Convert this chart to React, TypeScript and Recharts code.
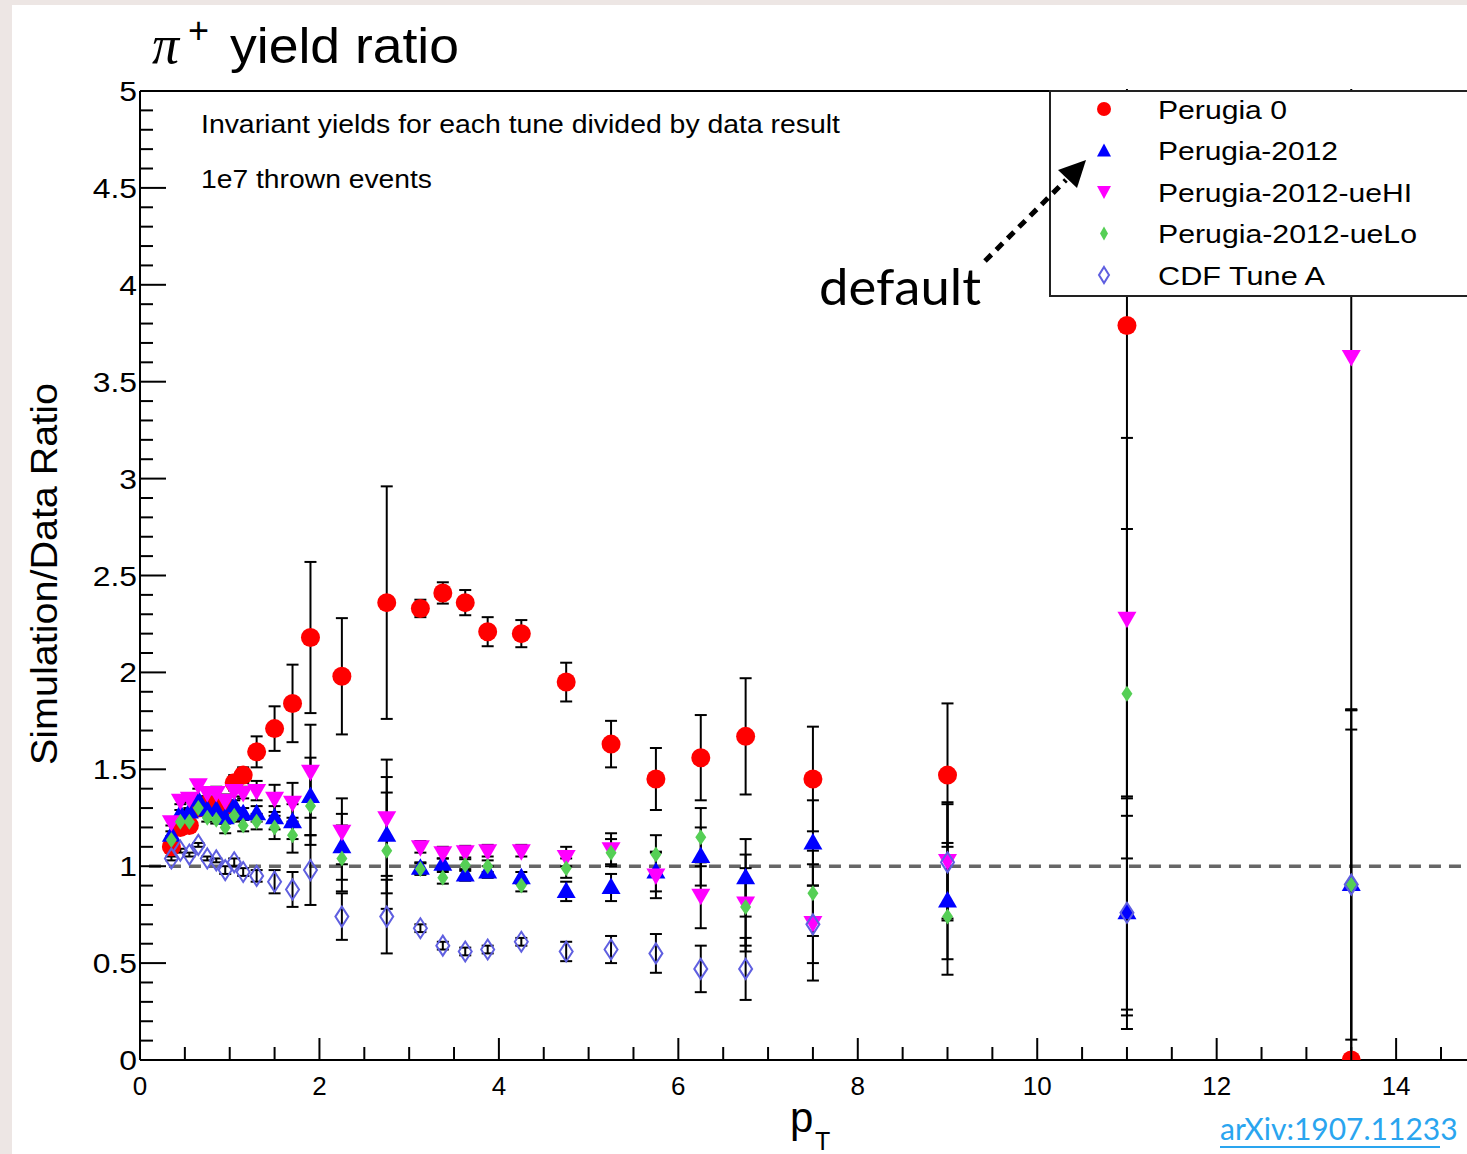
import React from 'react';
import { ComposedChart, Scatter, XAxis, YAxis, ErrorBar, ReferenceLine, Legend } from 'recharts';

// pT bin centres
const PT = [0.35, 0.45, 0.55, 0.65, 0.75, 0.85, 0.95, 1.05, 1.15, 1.3, 1.5, 1.7, 1.9, 2.25, 2.75, 3.125, 3.375, 3.625, 3.875, 4.25, 4.75, 5.25, 5.75, 6.25, 6.75, 7.5, 9, 11, 13.5];

// Perugia 0
const P0 = [1.10, 1.20, 1.21, 1.30, 1.32, 1.32, 1.31, 1.43, 1.47, 1.59, 1.71, 1.84, 2.18, 1.98, 2.36, 2.33, 2.41, 2.36, 2.21, 2.20, 1.95, 1.63, 1.45, 1.56, 1.67, 1.45, 1.47, 3.79, 0];
const P0_ERR = [0.02, 0.02, 0.02, 0.03, 0.03, 0.03, 0.03, 0.04, 0.04, 0.08, 0.115, 0.20, 0.39, 0.30, 0.60, 0.045, 0.055, 0.065, 0.075, 0.07, 0.10, 0.12, 0.16, 0.22, 0.30, 0.27, 0.37, 3.56, 0];

// Perugia-2012
const P12 = [1.16, 1.27, 1.28, 1.34, 1.29, 1.29, 1.25, 1.31, 1.27, 1.27, 1.25, 1.23, 1.36, 1.10, 1.16, 0.99, 1.01, 0.955, 0.97, 0.94, 0.87, 0.89, 0.97, 1.05, 0.94, 1.12, 0.82, 0.76, 0.905];
const P12_ERR = [0.02, 0.02, 0.02, 0.02, 0.02, 0.02, 0.03, 0.03, 0.03, 0.04, 0.06, 0.09, 0.20, 0.17, 0.30, 0.03, 0.03, 0.03, 0.03, 0.03, 0.05, 0.07, 0.10, 0.15, 0.20, 0.22, 0.30, 0.60, 0.90];

// Perugia-2012-ueHI
const PHI = [1.23, 1.34, 1.35, 1.42, 1.38, 1.38, 1.34, 1.39, 1.38, 1.39, 1.35, 1.33, 1.49, 1.18, 1.25, 1.10, 1.07, 1.075, 1.08, 1.08, 1.05, 1.09, 0.955, 0.85, 0.81, 0.71, 1.03, 2.28, 3.63];
const PHI_ERR = [0.02, 0.02, 0.02, 0.02, 0.02, 0.03, 0.03, 0.03, 0.03, 0.05, 0.07, 0.10, 0.24, 0.17, 0.30, 0.03, 0.03, 0.03, 0.03, 0.03, 0.05, 0.08, 0.12, 0.17, 0.25, 0.30, 0.30, 0.93, 1.82];

// Perugia-2012-ueLo
const PLO = [1.135, 1.23, 1.23, 1.30, 1.25, 1.24, 1.20, 1.26, 1.21, 1.23, 1.20, 1.16, 1.31, 1.04, 1.08, 0.985, 0.94, 1.006, 1.0, 0.90, 0.99, 1.07, 1.06, 1.15, 0.79, 0.86, 0.74, 1.89, 0.905];
const PLO_ERR = [0.02, 0.02, 0.02, 0.02, 0.02, 0.02, 0.03, 0.03, 0.03, 0.04, 0.06, 0.09, 0.20, 0.17, 0.30, 0.03, 0.03, 0.03, 0.03, 0.03, 0.05, 0.07, 0.10, 0.15, 0.20, 0.22, 0.30, 0.85, 0.90];

// CDF Tune A
const CDF = [1.04, 1.08, 1.06, 1.11, 1.04, 1.03, 0.98, 1.02, 0.97, 0.95, 0.92, 0.88, 0.98, 0.74, 0.74, 0.68, 0.59, 0.56, 0.57, 0.61, 0.56, 0.57, 0.55, 0.47, 0.47, 0.70, 1.02, 0.76, 0.905];
const CDF_ERR = [0.01, 0.01, 0.01, 0.01, 0.01, 0.01, 0.02, 0.02, 0.02, 0.03, 0.06, 0.09, 0.18, 0.12, 0.19, 0.02, 0.02, 0.02, 0.02, 0.02, 0.05, 0.07, 0.10, 0.12, 0.16, 0.20, 0.30, 0.50, 0.80];

const SERIES_NAMES = ['Perugia 0', 'Perugia-2012', 'Perugia-2012-ueHI', 'Perugia-2012-ueLo', 'CDF Tune A'];
const LEGEND_WIDTHS = [129, 180, 254, 259, 167];

const Y_TICKS = Array.from({ length: 51 }, (_, i) => i / 10);
const X_TICKS = Array.from({ length: 30 }, (_, i) => i / 2);
const X_MAX = 14.79;

const mk = (vals: number[], errs: number[]) => PT.map((x, i) => ({ x, y: vals[i], e: errs[i] }));
const dP0 = mk(P0, P0_ERR);
const dP12 = mk(P12, P12_ERR);
const dPHI = mk(PHI, PHI_ERR);
const dPLO = mk(PLO, PLO_ERR);
const dCDF = mk(CDF, CDF_ERR);

const RED = '#ff0000';
const BLUE = '#0000ff';
const MAGENTA = '#ff00ff';
const GREEN = '#55cf55';
const CDFC = '#5f5fe0';
const SANS = '"Liberation Sans", Arial, Helvetica, sans-serif';

const Circle = (p: any) => <circle cx={p.cx} cy={p.cy} r={9.5} fill={RED} />;
const TriUp = (p: any) => (
  <polygon points={`${p.cx},${p.cy - 10} ${p.cx - 9.5},${p.cy + 6.5} ${p.cx + 9.5},${p.cy + 6.5}`} fill={BLUE} />
);
const TriDown = (p: any) => (
  <polygon points={`${p.cx},${p.cy + 10} ${p.cx - 9.5},${p.cy - 6.5} ${p.cx + 9.5},${p.cy - 6.5}`} fill={MAGENTA} />
);
const DiamondFill = (p: any) => (
  <polygon points={`${p.cx},${p.cy - 8} ${p.cx + 5.5},${p.cy} ${p.cx},${p.cy + 8} ${p.cx - 5.5},${p.cy}`} fill={GREEN} />
);
const DiamondOpen = (p: any) => (
  <polygon points={`${p.cx},${p.cy - 10} ${p.cx + 6.5},${p.cy} ${p.cx},${p.cy + 10} ${p.cx - 6.5},${p.cy}`} fill="none" stroke={CDFC} strokeWidth={2} />
);

const YTick = (props: any) => {
  const { x, y, payload } = props;
  const v = payload.value;
  const major = Math.round(v * 10) % 5 === 0;
  return (
    <g>
      <line x1={x} y1={y} x2={x + (major ? 26 : 13)} y2={y} stroke="#000" strokeWidth={2} />
      {major && (
        <text transform={`translate(${x - 3},${y + 10}) scale(1.18,1)`} textAnchor="end" fontFamily={SANS} fontSize={27} fill="#000">
          {String(v)}
        </text>
      )}
    </g>
  );
};

const XTick = (props: any) => {
  const { x, y, payload } = props;
  const v = payload.value;
  const major = Math.round(v * 2) % 4 === 0;
  return (
    <g>
      <line x1={x} y1={y} x2={x} y2={y - (major ? 22 : 13)} stroke="#000" strokeWidth={2} />
      {major && (
        <text x={x} y={y + 35} textAnchor="middle" fontFamily={SANS} fontSize={26} fill="#000">
          {String(v)}
        </text>
      )}
    </g>
  );
};

const legendMarker = (i: number, cx: number, cy: number) => {
  switch (i) {
    case 0:
      return <circle cx={cx} cy={cy} r={7} fill={RED} />;
    case 1:
      return <polygon points={`${cx},${cy - 7} ${cx - 7},${cy + 6} ${cx + 7},${cy + 6}`} fill={BLUE} />;
    case 2:
      return <polygon points={`${cx},${cy + 7} ${cx - 7},${cy - 6} ${cx + 7},${cy - 6}`} fill={MAGENTA} />;
    case 3:
      return <polygon points={`${cx},${cy - 7} ${cx + 4},${cy} ${cx},${cy + 7} ${cx - 4},${cy}`} fill={GREEN} />;
    default:
      return <polygon points={`${cx},${cy - 8} ${cx + 5},${cy} ${cx},${cy + 8} ${cx - 5},${cy}`} fill="none" stroke={CDFC} strokeWidth={2} />;
  }
};

const LegendBox = () => (
  <div style={{ width: 430, height: 207, boxSizing: 'border-box', border: '2px solid #222', borderRight: 'none', background: '#fff' }}>
    <svg width={428} height={203} style={{ display: 'block' }}>
      {SERIES_NAMES.map((name, i) => {
        const cy = 17 + i * 41.5;
        return (
          <g key={name}>
            {legendMarker(i, 53, cy)}
            <text x={107} y={cy + 9.5} fontFamily={SANS} fontSize={26} fill="#000" textLength={LEGEND_WIDTHS[i]} lengthAdjust="spacingAndGlyphs">
              {name}
            </text>
          </g>
        );
      })}
    </svg>
  </div>
);

export default function App() {
  return (
    <div style={{ position: 'absolute', left: 0, top: 0, width: 1467, height: 1154, background: '#ede6e4', overflow: 'hidden' }}>
      <div style={{ position: 'absolute', left: 12, top: 5, width: 1455, height: 1149, background: '#fff' }} />
      <div style={{ position: 'absolute', left: 0, top: 0 }}>
        <ComposedChart width={1467} height={1154} margin={{ top: 91, left: 0, right: 0, bottom: 0 }}>
          <XAxis
            dataKey="x"
            type="number"
            domain={[0, X_MAX]}
            ticks={X_TICKS}
            allowDataOverflow
            height={94}
            tickSize={0}
            tickMargin={0}
            tickLine={false}
            interval={0}
            axisLine={{ stroke: '#000', strokeWidth: 2 }}
            tick={<XTick />}
          />
          <YAxis
            dataKey="y"
            type="number"
            domain={[0, 5]}
            ticks={Y_TICKS}
            allowDataOverflow
            width={140}
            tickSize={0}
            tickMargin={0}
            tickLine={false}
            interval={0}
            axisLine={{ stroke: '#000', strokeWidth: 2 }}
            tick={<YTick />}
          />
          <ReferenceLine y={5} stroke="#000" strokeWidth={2} />
          <ReferenceLine
            segment={[{ x: 0.1, y: 1 }, { x: X_MAX, y: 1 }]}
            stroke="#666"
            strokeWidth={3.5}
            strokeDasharray="12 8"
          />
          <Scatter name={SERIES_NAMES[0]} data={dP0} dataKey="y" shape={Circle} isAnimationActive={false}>
            <ErrorBar dataKey="e" direction="y" width={6} stroke="#000" strokeWidth={2} isAnimationActive={false} />
          </Scatter>
          <Scatter name={SERIES_NAMES[1]} data={dP12} dataKey="y" shape={TriUp} isAnimationActive={false}>
            <ErrorBar dataKey="e" direction="y" width={6} stroke="#000" strokeWidth={2} isAnimationActive={false} />
          </Scatter>
          <Scatter name={SERIES_NAMES[2]} data={dPHI} dataKey="y" shape={TriDown} isAnimationActive={false}>
            <ErrorBar dataKey="e" direction="y" width={6} stroke="#000" strokeWidth={2} isAnimationActive={false} />
          </Scatter>
          <Scatter name={SERIES_NAMES[3]} data={dPLO} dataKey="y" shape={DiamondFill} isAnimationActive={false}>
            <ErrorBar dataKey="e" direction="y" width={6} stroke="#000" strokeWidth={2} isAnimationActive={false} />
          </Scatter>
          <Scatter name={SERIES_NAMES[4]} data={dCDF} dataKey="y" shape={DiamondOpen} isAnimationActive={false}>
            <ErrorBar dataKey="e" direction="y" width={6} stroke="#000" strokeWidth={2} isAnimationActive={false} />
          </Scatter>
          <Legend
            layout="horizontal"
            verticalAlign="middle"
            align="center"
            content={() => <LegendBox />}
            wrapperStyle={{ position: 'absolute', left: 1049, top: 90, width: 430, height: 207, margin: 0, padding: 0 }}
          />
        </ComposedChart>
      </div>
      <svg width={1467} height={1154} style={{ position: 'absolute', left: 0, top: 0, pointerEvents: 'none' }}>
        <rect x={143} y={0} width={1324} height={5} fill="#ede6e4" />
        <rect x={143} y={5} width={1324} height={84} fill="#fff" />
        <text x={152} y={63} fontFamily='"Liberation Serif", "Times New Roman", serif' fontStyle="italic" fontSize={54} fill="#000">π</text>
        <text x={188} y={43} fontFamily={SANS} fontSize={36} fill="#000">+</text>
        <text x={230} y={63} fontFamily={SANS} fontSize={50} fill="#000" textLength={229} lengthAdjust="spacingAndGlyphs">yield ratio</text>
        <text x={201} y={133} fontFamily={SANS} fontSize={25} fill="#000" textLength={639} lengthAdjust="spacingAndGlyphs">
          Invariant yields for each tune divided by data result
        </text>
        <text x={201} y={188} fontFamily={SANS} fontSize={25} fill="#000" textLength={231} lengthAdjust="spacingAndGlyphs">
          1e7 thrown events
        </text>
        <text x={819} y={305} fontFamily='Lato, "Open Sans", sans-serif' fontSize={50} fill="#000" textLength={162} lengthAdjust="spacingAndGlyphs">
          default
        </text>
        <line x1={985} y1={261} x2={1066} y2={180} stroke="#000" strokeWidth={5} strokeDasharray="9 7" />
        <polygon points="1086,160 1058,170 1077,188" fill="#000" />
        <text transform="translate(57,574) rotate(-90)" textAnchor="middle" fontFamily={SANS} fontSize={36} fill="#000" textLength={382} lengthAdjust="spacingAndGlyphs">
          Simulation/Data Ratio
        </text>
        <text x={790} y={1132} fontFamily={SANS} fontSize={42} fill="#000">p</text>
        <text x={815} y={1150} fontFamily={SANS} fontSize={25} fill="#000">T</text>
        <text x={1220} y={1140} fontFamily='Lato, "Open Sans", sans-serif' fontSize={30} fill="#2aa5ef">arXiv:1907.11233</text>
        <line x1={1220} y1={1147} x2={1440} y2={1147} stroke="#2aa5ef" strokeWidth={2} />
      </svg>
    </div>
  );
}
